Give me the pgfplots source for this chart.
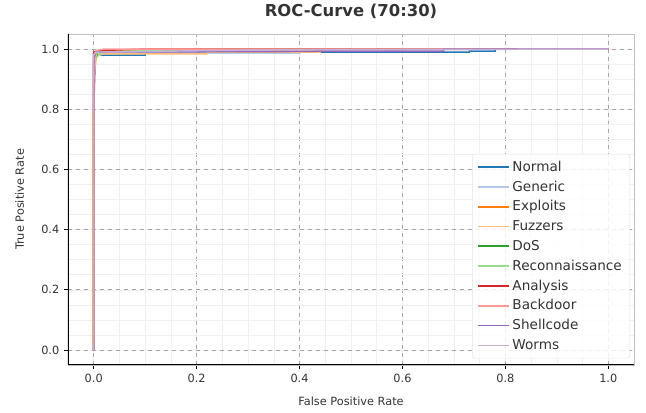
\documentclass[border=0pt]{standalone}
\usepackage{fontspec}
\setmainfont{DejaVu Sans}
\usepackage{pgfplots}
\pgfplotsset{compat=1.18}

\definecolor{tabblue}{HTML}{1F77B4}
\definecolor{tablightblue}{HTML}{AEC7E8}
\definecolor{taborange}{HTML}{FF7F0E}
\definecolor{tablightorange}{HTML}{FFBB78}
\definecolor{tabgreen}{HTML}{2CA02C}
\definecolor{tablightgreen}{HTML}{98DF8A}
\definecolor{tabred}{HTML}{D62728}
\definecolor{tablightred}{HTML}{FF9896}
\definecolor{tabpurple}{HTML}{9467BD}
\definecolor{tablightpurple}{HTML}{C5B0D5}
\definecolor{txt}{HTML}{333333}

\begin{document}
\begin{tikzpicture}[x=1pt,y=1pt]
\begin{axis}[
  at={(0,0)}, anchor=south west,
  scale only axis, width=424.5pt, height=248.25pt,
  xmin=-0.05, xmax=1.05, ymin=-0.05, ymax=1.05,
  xtick={0,0.2,...,1.0}, ytick={0,0.2,...,1.0},
  minor xtick={0,0.05,...,1.05}, minor ytick={0,0.05,...,1.05},
  xticklabel style={/pgf/number format/.cd,fixed,fixed zerofill,precision=1},
  yticklabel style={/pgf/number format/.cd,fixed,fixed zerofill,precision=1},
  /pgf/number format/assume math mode=true,
  tick label style={font=\fontsize{8.5}{10}\selectfont, text=txt},
  tick align=outside, major tick length=3pt, minor tick length=0pt,
  xtick pos=bottom, ytick pos=left,
  tick style={color=black, line width=0.6pt},
  grid=both,
  major grid style={dashed, color=gray!70, line width=0.5pt},
  minor grid style={solid, color=gray!12, line width=0.4pt},
  axis line style={color=gray!50, line width=0.6pt},
  title={\bfseries ROC-Curve (70:30)},
  title style={font=\fontsize{12.3}{14}\selectfont, text=txt, yshift=2pt},
  xlabel={False Positive Rate}, ylabel={True Positive Rate},
  label style={font=\fontsize{8.5}{10}\selectfont, text=txt},
  xlabel style={yshift=-4pt}, ylabel style={yshift=6pt},
  legend style={at={(0.993,0.02)}, anchor=south east,
    font=\fontsize{10.2}{12}\selectfont, text=txt,
    draw=gray!20, rounded corners=2pt, fill=white, fill opacity=0.85, text opacity=1,
    row sep=1.7pt, inner xsep=4pt, inner ysep=3pt},
  legend cell align=left,
  legend image code/.code={\draw[#1, line width=1.1pt] (0pt,0pt) -- (23pt,0pt);},
  every axis plot/.append style={line width=1.1pt},
]
\addplot[tabblue] coordinates {(0,0) (0,0.95) (0.003,0.975) (0.01,0.98) (0.1,0.98) (0.1,0.988) (0.4,0.988) (0.4,0.99) (0.73,0.99) (0.73,0.993) (0.78,0.993) (0.78,1) (1,1)};
\addlegendentry{Normal}
\addplot[tablightblue] coordinates {(0,0) (0,0.96) (0.005,0.975) (0.02,0.985) (0.2,0.99) (0.3,0.995) (0.5,0.998) (1,1)};
\addlegendentry{Generic}
\addplot[taborange] coordinates {(0,0) (0,0.985) (0.01,0.99) (0.05,0.995) (0.3,0.998) (1,1)};
\addlegendentry{Exploits}
\addplot[tablightorange] coordinates {(0,0) (0,0.9) (0.005,0.97) (0.01,0.984) (0.22,0.984) (0.22,0.99) (0.44,0.99) (0.44,1) (1,1)};
\addlegendentry{Fuzzers}
\addplot[tabgreen] coordinates {(0,0) (0,0.8) (0.003,0.97) (0.01,0.993) (0.1,0.997) (0.3,1) (1,1)};
\addlegendentry{DoS}
\addplot[tablightgreen] coordinates {(0,0) (0,0.9) (0.005,0.985) (0.05,0.995) (0.3,1) (1,1)};
\addlegendentry{Reconnaissance}
\addplot[tabred] coordinates {(0,0) (0,0.99) (0.01,0.995) (0.1,1) (1,1)};
\addlegendentry{Analysis}
\addplot[tablightred] coordinates {(0,0) (0,0.98) (0.005,0.995) (0.02,1) (1,1)};
\addlegendentry{Backdoor}
\addplot[tabpurple] coordinates {(0,0) (0,0.97) (0.005,0.99) (0.43,0.992) (0.43,0.993) (0.68,0.993) (0.68,1) (1,1)};
\addlegendentry{Shellcode}
\addplot[tablightpurple] coordinates {(0,0) (0,0.98) (0.005,0.99) (0.28,0.996) (0.45,0.998) (1,1)};
\addlegendentry{Worms}
\draw[black, line width=0.8pt] (rel axis cs:0,1) -- (rel axis cs:0,0) -- (rel axis cs:1,0);
\end{axis}
\pgfresetboundingbox
\path (-51pt,-36pt) rectangle (433.5pt,273.75pt);
\end{tikzpicture}
\end{document}
